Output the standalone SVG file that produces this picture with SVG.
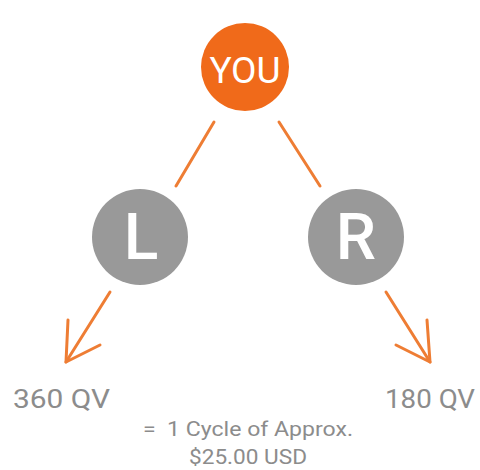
<svg xmlns="http://www.w3.org/2000/svg" width="480" height="470" viewBox="0 0 480 470">
<style>
.c{stroke:#ee7d34;stroke-width:3;fill:none;stroke-linecap:round;stroke-linejoin:round}
.lbl{font-family:Roboto,"Liberation Sans",sans-serif;fill:#8c8c8c}
.nt{font-family:Roboto,"Liberation Sans",sans-serif;fill:#fff;text-anchor:middle}
</style>
<rect width="480" height="470" fill="#fff"/>
<g id="connectors">
<line class="c" x1="214" y1="122" x2="176" y2="186"/>
<line class="c" x1="279" y1="122" x2="320" y2="186"/>
<line class="c" x1="110" y1="292" x2="66" y2="362"/>
<polyline class="c" points="68,320 66,362 100,345"/>
<line class="c" x1="386" y1="292" x2="430" y2="362"/>
<polyline class="c" points="427,320 430,362 396,345"/>
</g>
<g id="you">
<circle cx="245" cy="67" r="44" fill="#f06a1a"/>
<text class="nt" x="245" y="83" font-size="37" fill="#fff8ea">YOU</text>
</g>
<g id="L">
<circle cx="140" cy="237" r="48" fill="#999"/>
<text class="nt" x="141" y="259" font-size="64" font-weight="500">L</text>
</g>
<g id="R">
<circle cx="356" cy="237" r="48" fill="#999"/>
<text class="nt" x="356" y="259" font-size="64" font-weight="500">R</text>
</g>
<g id="labels">
<text class="lbl" x="13" y="408" font-size="25" textLength="97" lengthAdjust="spacingAndGlyphs">360 QV</text>
<text class="lbl" x="385" y="408" font-size="25" textLength="90" lengthAdjust="spacingAndGlyphs">180 QV</text>
<text class="lbl" x="143" y="436" font-size="20" xml:space="preserve" textLength="210" lengthAdjust="spacingAndGlyphs">=  1 Cycle of Approx.</text>
<text class="lbl" x="189" y="464" font-size="20" textLength="118" lengthAdjust="spacingAndGlyphs">$25.00 USD</text>
</g>
</svg>
